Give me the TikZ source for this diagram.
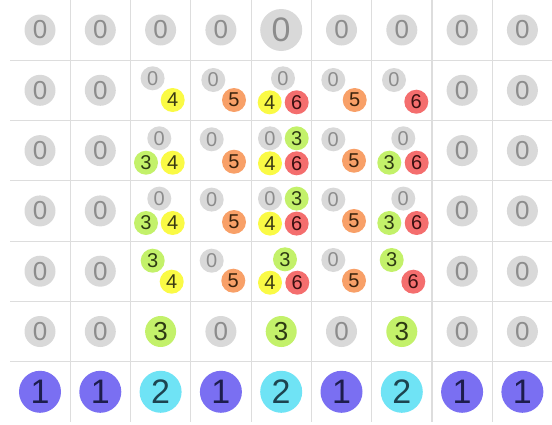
\documentclass[tikz,border=0pt]{standalone}
\usepackage{fontspec}
\setmainfont{Liberation Sans}

\definecolor{gridline}{HTML}{DDDDDD}
\definecolor{fillzero}{HTML}{D9D9D9}
\definecolor{textzero}{HTML}{8C8C8C}
\definecolor{fillone}{HTML}{7A6FF2}
\definecolor{textone}{HTML}{1D1D4D}
\definecolor{filltwo}{HTML}{6FE3F5}
\definecolor{texttwo}{HTML}{1D4450}
\definecolor{fillthree}{HTML}{C3F16A}
\definecolor{textthree}{HTML}{2E3A14}
\definecolor{fillfour}{HTML}{FAFA45}
\definecolor{textfour}{HTML}{3A3A14}
\definecolor{fillfive}{HTML}{F8A068}
\definecolor{textfive}{HTML}{3A220C}
\definecolor{fillsix}{HTML}{F46E6E}
\definecolor{textsix}{HTML}{3A1010}

\tikzset{
  ball/.style={circle,inner sep=0pt},
  small/.style={ball,minimum size=24pt,font=\fontsize{20}{20}\selectfont},
  mid/.style={ball,minimum size=31pt,font=\fontsize{26}{26}\selectfont},
  big/.style={ball,minimum size=42pt,font=\fontsize{34}{34}\selectfont},
  vzero/.style={fill=fillzero,text=textzero},
  vone/.style={fill=fillone,text=textone},
  vtwo/.style={fill=filltwo,text=texttwo},
  vthree/.style={fill=fillthree,text=textthree},
  vfour/.style={fill=fillfour,text=textfour},
  vfive/.style={fill=fillfive,text=textfive},
  vsix/.style={fill=fillsix,text=textsix}
}

\begin{document}
\begin{tikzpicture}[x=1pt,y=-1pt]

\useasboundingbox (0,0) rectangle (552,424);

% Grille
\foreach \k in {0,...,7}
  \draw[gridline,line width=1.1pt] ({70.15+60.3*\k},0) -- ({70.15+60.3*\k},422);
\foreach \k in {0,...,5}
  \draw[gridline,line width=1.1pt] (10,{60.15+60.3*\k}) -- (552,{60.15+60.3*\k});

% Colonnes de bord
\foreach \c/\x in {0/40,1/100.3,7/462.1,8/522.4}
  \foreach \r in {0,...,5}
    \node[mid,vzero] (z\c\r) at (\x,{30+60.3*\r}) {0};

% Ligne du haut
\node[mid,vzero] (z20) at (160.6,30) {0};
\node[mid,vzero] (z30) at (220.9,30) {0};
\node[big,vzero] (z40) at (281.2,30) {0};
\node[mid,vzero] (z50) at (341.5,30) {0};
\node[mid,vzero] (z60) at (401.8,30) {0};

% Ligne 1
\node[small,vzero] (a21) at (152.6,78.3) {0};
\node[small,vfour] (b21) at (172.7,100) {4};
\node[small,vzero] (a31) at (213.3,80) {0};
\node[small,vfive] (b31) at (234,100) {5};
\node[small,vzero] (a41) at (283,78.3) {0};
\node[small,vfour] (b41) at (269.7,102.3) {4};
\node[small,vsix] (c41) at (296.7,102.3) {6};
\node[small,vzero] (a51) at (333.3,80) {0};
\node[small,vfive] (b51) at (354.7,100) {5};
\node[small,vzero] (a61) at (394,80) {0};
\node[small,vsix] (b61) at (416.3,101.7) {6};

% Ligne 2
\node[small,vzero] (a22) at (159.3,138.3) {0};
\node[small,vthree] (b22) at (146,162.7) {3};
\node[small,vfour] (c22) at (172.7,162.7) {4};
\node[small,vzero] (a32) at (211.7,139.3) {0};
\node[small,vfive] (b32) at (234,161.7) {5};
\node[small,vzero] (a42) at (270,138.3) {0};
\node[small,vthree] (b42) at (296.7,138.3) {3};
\node[small,vfour] (c42) at (270,163.3) {4};
\node[small,vsix] (d42) at (296.7,163.3) {6};
\node[small,vzero] (a52) at (333.3,139.3) {0};
\node[small,vfive] (b52) at (354,160.7) {5};
\node[small,vzero] (a62) at (403.3,138.3) {0};
\node[small,vthree] (b62) at (389.3,162.7) {3};
\node[small,vsix] (c62) at (416.7,162.7) {6};

% Ligne 3
\node[small,vzero] (a23) at (159.3,198.6) {0};
\node[small,vthree] (b23) at (146,223) {3};
\node[small,vfour] (c23) at (172.7,223) {4};
\node[small,vzero] (a33) at (211.7,199.6) {0};
\node[small,vfive] (b33) at (234,222) {5};
\node[small,vzero] (a43) at (270,198.6) {0};
\node[small,vthree] (b43) at (296.7,198.6) {3};
\node[small,vfour] (c43) at (270,223.6) {4};
\node[small,vsix] (d43) at (296.7,223.6) {6};
\node[small,vzero] (a53) at (333.3,199.6) {0};
\node[small,vfive] (b53) at (354,221) {5};
\node[small,vzero] (a63) at (403.3,198.6) {0};
\node[small,vthree] (b63) at (389.3,223) {3};
\node[small,vsix] (c63) at (416.7,223) {6};

% Ligne 4
\node[small,vthree] (a24) at (152.7,260.7) {3};
\node[small,vfour] (b24) at (171.7,281.7) {4};
\node[small,vzero] (a34) at (211.7,260.7) {0};
\node[small,vfive] (b34) at (233.3,280.7) {5};
\node[small,vthree] (a44) at (285,259.3) {3};
\node[small,vfour] (b44) at (270,282.7) {4};
\node[small,vsix] (c44) at (297.3,282.7) {6};
\node[small,vzero] (a54) at (333.3,260) {0};
\node[small,vfive] (b54) at (354,280.7) {5};
\node[small,vthree] (a64) at (391.7,260) {3};
\node[small,vsix] (b64) at (413.3,281.7) {6};

% Ligne 5
\node[mid,vthree] (z25) at (160.6,331.5) {3};
\node[mid,vzero] (z35) at (220.9,331.5) {0};
\node[mid,vthree] (z45) at (281.2,331.5) {3};
\node[mid,vzero] (z55) at (341.5,331.5) {0};
\node[mid,vthree] (z65) at (401.8,331.5) {3};

% Ligne du bas
\node[big,vone] (z06) at (40,391.8) {1};
\node[big,vone] (z16) at (100.3,391.8) {1};
\node[big,vtwo] (z26) at (160.6,391.8) {2};
\node[big,vone] (z36) at (220.9,391.8) {1};
\node[big,vtwo] (z46) at (281.2,391.8) {2};
\node[big,vone] (z56) at (341.5,391.8) {1};
\node[big,vtwo] (z66) at (401.8,391.8) {2};
\node[big,vone] (z76) at (462.1,391.8) {1};
\node[big,vone] (z86) at (522.4,391.8) {1};

\end{tikzpicture}
\end{document}
